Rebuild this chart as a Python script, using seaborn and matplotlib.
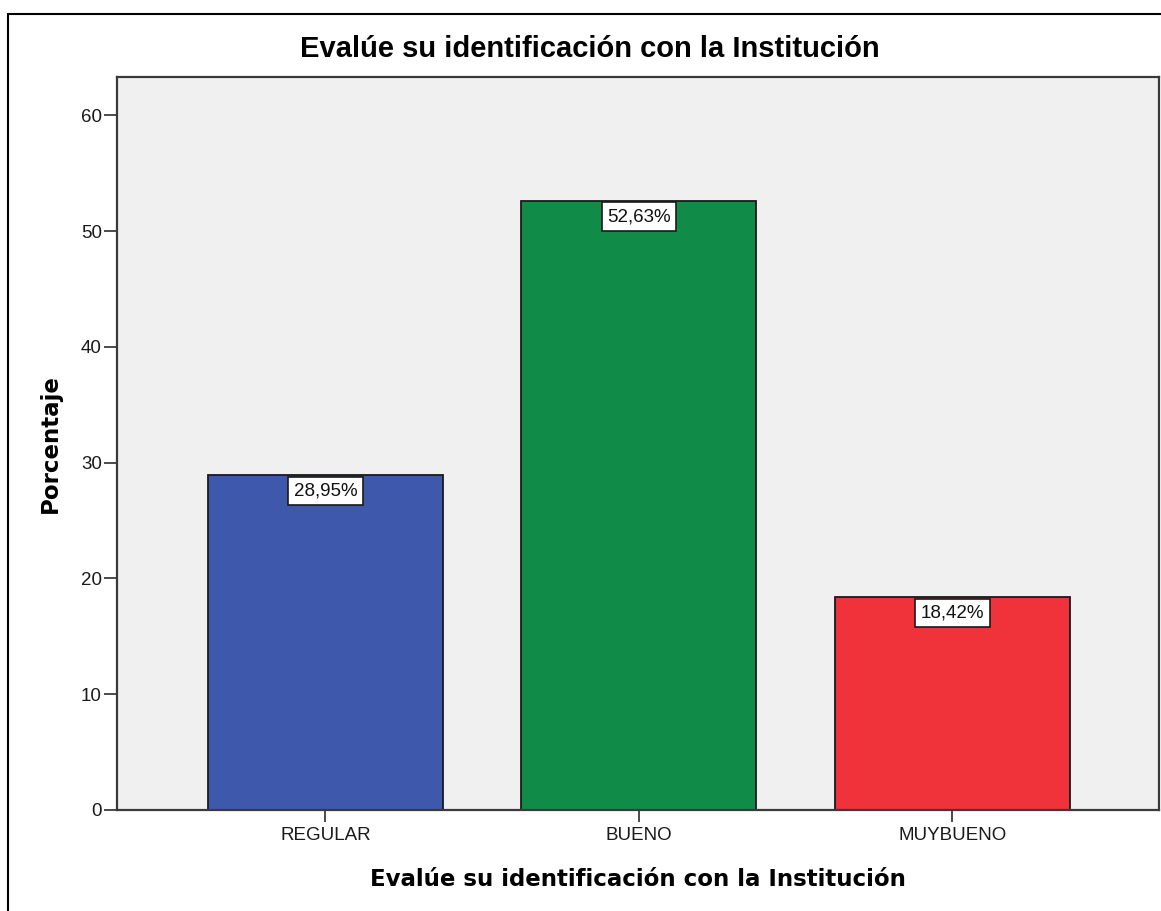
import matplotlib
matplotlib.use("Agg")
import matplotlib.pyplot as plt
from matplotlib.lines import Line2D
import seaborn as sns
import pandas as pd

# chart values
categories = ["REGULAR", "BUENO", "MUYBUENO"]
percentages = [28.95, 52.63, 18.42]
bar_colors = ["#3e58ac", "#118c48", "#f0323a"]
y_ticks = [0, 10, 20, 30, 40, 50, 60]
title = "Evalúe su identificación con la Institución"

sns.set_style("ticks")
plt.rcParams["font.family"] = ["Liberation Sans", "DejaVu Sans"]
plt.rcParams["text.color"] = "black"
plt.rcParams["axes.labelcolor"] = "black"

df = pd.DataFrame({"cat": categories, "pct": percentages})

fig = plt.figure(figsize=(11.61, 9.11), dpi=100)
ax = fig.add_axes([117 / 1161, 1 - 810 / 911, (1159 - 117) / 1161, (810 - 77) / 911])
ax.set_facecolor("#f0f0f0")

sns.barplot(data=df, x="cat", y="pct", hue="cat", palette=bar_colors,
            width=0.75, edgecolor="#1a1a1a", linewidth=1.3, legend=False,
            saturation=1, ax=ax)

ax.set_xlim(-0.665, 2.659)
ax.set_ylim(0, 63.3)
ax.set_yticks(y_ticks)

for sp in ax.spines.values():
    sp.set_visible(True)
    sp.set_color("#3a3a3a")
    sp.set_linewidth(1.6)

ax.tick_params(axis="y", length=9.4, width=1.1, pad=1.5, labelsize=13.5,
               colors="#1a1a1a")
ax.tick_params(axis="x", length=8.6, width=1.1, pad=4, labelsize=13.5,
               colors="#1a1a1a")

# value labels in white boxes just under the bar top
for i, v in enumerate(percentages):
    txt = f"{v:.2f}%".replace(".", ",")
    ax.annotate(txt, xy=(i, v), xytext=(0, -11.5), textcoords="offset points",
                ha="center", va="center", fontsize=13.5, color="#111111",
                bbox=dict(boxstyle="square,pad=0.3", fc="white",
                          ec="#1a1a1a", lw=1.2))

ax.set_title(title, x=(590 - 117) / 1042, y=1 + (77 - 65) / 733,
             fontsize=21, fontweight="bold", va="baseline", color="black")
ax.set_xlabel(title, fontsize=16.5, fontweight="bold", family="DejaVu Sans",
              va="center")
ax.xaxis.set_label_coords(0.5, -(880 - 810) / 733)
ax.set_ylabel("Porcentaje", fontsize=16.5, fontweight="bold",
              family="DejaVu Sans", va="center")
ax.yaxis.set_label_coords((50 - 117) / 1042, 0.5)

# outer frame (left and top edges visible)
fig.add_artist(Line2D([8 / 1161, 8 / 1161], [0, 1 - 14 / 911],
                      transform=fig.transFigure, color="black", lw=1.5))
fig.add_artist(Line2D([8 / 1161, 1], [1 - 14 / 911, 1 - 14 / 911],
                      transform=fig.transFigure, color="black", lw=1.5))

fig.savefig("out.png", dpi=100)
